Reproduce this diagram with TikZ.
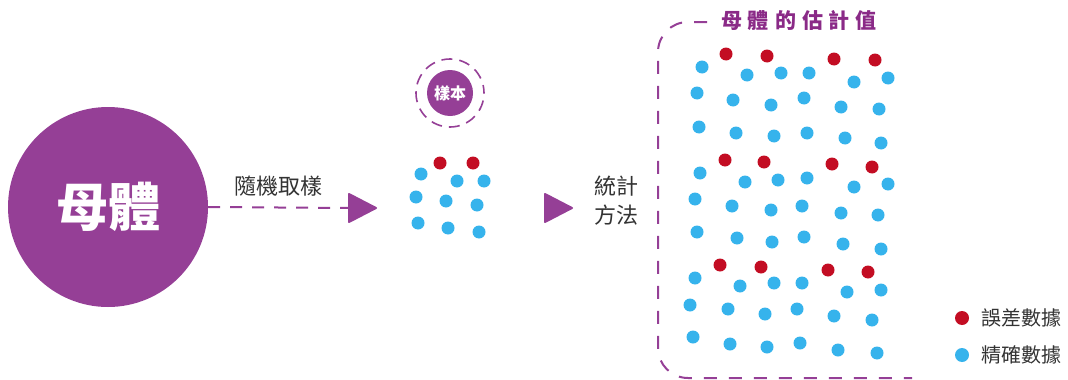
\documentclass[tikz,border=0pt]{standalone}
\usepackage{fontspec}
\newfontfamily\cjk{Noto Sans CJK TC}
\usetikzlibrary{calc}
\definecolor{mypurple}{HTML}{953F96}
\definecolor{titlepurple}{HTML}{8A2A87}
\definecolor{myred}{HTML}{C30D23}
\definecolor{myblue}{HTML}{36B3EC}
\definecolor{txt}{HTML}{333333}
\tikzset{
  lbl/.style={font=\cjk\fontsize{22}{28}\selectfont, text=txt, inner sep=0pt},
  reddot/.style={fill=myred},
  bluedot/.style={fill=myblue},
  purpledash/.style={draw=mypurple, line width=2pt, dash pattern=on 12pt off 10pt},
  tip/.style={fill=mypurple, draw=mypurple, line width=2pt, line join=round},
}
\begin{document}
\begin{tikzpicture}[x=1pt,y=-1pt]
\useasboundingbox (0,0) rectangle (1068,380);
% population
\node[circle, fill=mypurple, minimum size=200pt, inner sep=0pt, text=white,
      font=\cjk\bfseries\fontsize{52}{52}\selectfont] (pop) at (108,207) {母體};
% arrow 1
\coordinate (t1) at (349,208);
\fill[tip] (t1) ++(0,-14) -- ++(27,14) -- ++(-27,14) -- cycle;
\draw[purpledash] (pop.east) -- (t1);
\node[lbl] (l1) at (278,186) {隨機取樣};
% sample
\node[circle, fill=mypurple, minimum size=46pt, inner sep=0pt, text=white,
      font=\cjk\bfseries\fontsize{16}{16}\selectfont] (samp) at (450,93) {樣本};
\draw[mypurple, line width=1.6pt, dash pattern=on 11pt off 7pt, dash phase=3pt] (samp.center) circle (34pt);
\foreach \p in {(440,163),(473,163)} \fill[reddot] \p circle (6.5pt);
\foreach \p in {(421,174),(457,181),(484,181),(416,197),(446,201),(477,205),(418,223),(448,228),(479,232)}
  \fill[bluedot] \p circle (6.5pt);
% arrow 2
\coordinate (t2) at (545,208);
\fill[tip] (t2) ++(0,-14) -- ++(27,14) -- ++(-27,14) -- cycle;
\node[lbl, align=left, font=\cjk\fontsize{22}{29}\selectfont] (l2) at (616,201) {統計\\方法};
% estimate box
\draw[mypurple, line width=2pt, dash pattern=on 13pt off 12pt]
  (707,22) -- (688,22) arc[start angle=90, end angle=180, radius=30pt] -- (658,348)
  arc[start angle=180, end angle=270, radius=30pt] -- (912,378);
\node[inner sep=0pt, text=titlepurple, font=\cjk\bfseries\fontsize{21}{21}\selectfont] (title) at (799,20)
  {母\hspace{6pt}體\hspace{6pt}的\hspace{6pt}估\hspace{6pt}計\hspace{6pt}值};
\foreach \p in {(726,54),(767,56),(834,59),(875,60),
                (725,160),(764,162),(832,164),(872,167),
                (720,265),(761,267),(828,270),(868,272)}
  \fill[reddot] \p circle (6.5pt);
\foreach \p in {(702,67),(747,75),(781,73),(809,73),(854,82),(888,78),
                (697,93),(733,100),(771,105),(804,98),(841,107),(879,109),
                (699,127),(736,133),(774,136),(807,133),(845,138),(881,143),
                (700,173),(745,182),(778,180),(807,178),(854,187),(888,184),
                (695,199),(732,206),(771,210),(802,206),(841,213),(878,215),
                (697,232),(737,238),(772,242),(804,237),(843,244),(881,249),
                (695,278),(740,286),(774,283),(802,283),(847,292),(881,290),
                (690,305),(728,309),(765,314),(797,309),(834,316),(872,320),
                (693,337),(730,344),(767,347),(800,343),(838,350),(877,353)}
  \fill[bluedot] \p circle (6.5pt);
% legend
\fill[reddot] (962,318) circle (7pt);
\fill[bluedot] (962,355) circle (7pt);
\node[lbl, anchor=west, font=\cjk\fontsize{20}{20}\selectfont] (lg1) at (981,318) {誤差數據};
\node[lbl, anchor=west, font=\cjk\fontsize{20}{20}\selectfont] (lg2) at (981,355) {精確數據};
\end{tikzpicture}
\end{document}
